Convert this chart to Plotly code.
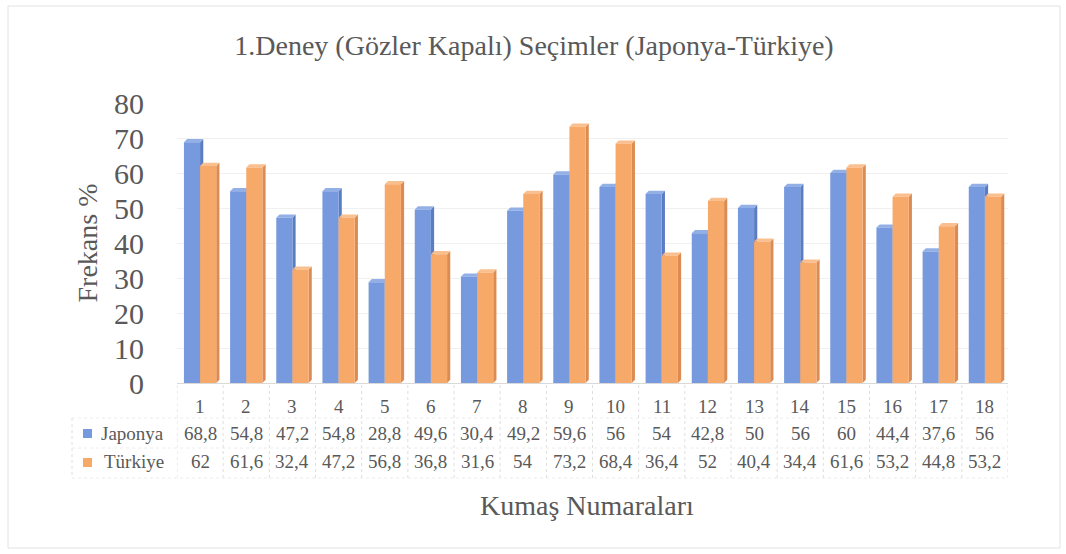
import plotly.graph_objects as go

categories = [str(i) for i in range(1, 19)]
japonya = [68.8, 54.8, 47.2, 54.8, 28.8, 49.6, 30.4, 49.2, 59.6, 56, 54, 42.8, 50, 56, 60, 44.4, 37.6, 56]
turkiye = [62, 61.6, 32.4, 47.2, 56.8, 36.8, 31.6, 54, 73.2, 68.4, 36.4, 52, 40.4, 34.4, 61.6, 53.2, 44.8, 53.2]
y_ticks = [0, 10, 20, 30, 40, 50, 60, 70, 80]

BLUE = "#779ade"
BLUE_SIDE = "#5a7cc2"
BLUE_TOP = "#93b0e6"
ORANGE = "#f7a96a"
ORANGE_SIDE = "#dc8c52"
ORANGE_TOP = "#fabf8e"
SERIF = "Liberation Serif"
TXT = "#595959"

W, H = 1066, 554
ML, MR, MT, MB = 177, 58, 103, 171
PH = H - MT - MB
PW = W - ML - MR

BARGAP = 0.3
BW = (1 - BARGAP) / 2          # width of one bar in category units
DX = 3.2 / (PW / 18)           # depth of the 3-D extrusion, category units
DY = 3.2 / (PH / 80)           # depth of the 3-D extrusion, value units


def py(px):
    """pixel row -> paper y"""
    return (H - MB - px) / PH


def pxp(px):
    """pixel column -> paper x"""
    return (px - ML) / PW


def fmt(v):
    return ("%g" % v).replace(".", ",")


fig = go.Figure()
fig.add_trace(go.Bar(x=categories, y=japonya, name="Japonya",
                     marker=dict(color=BLUE, line=dict(width=0))))
fig.add_trace(go.Bar(x=categories, y=turkiye, name="Türkiye",
                     marker=dict(color=ORANGE, line=dict(width=0))))

shapes = []
# extruded side and top faces, placed behind the bar fronts
for i in range(len(categories)):
    for v, left, side, top in [(japonya[i], i - BW, BLUE_SIDE, BLUE_TOP),
                               (turkiye[i], i, ORANGE_SIDE, ORANGE_TOP)]:
        right = left + BW
        shapes.append(dict(type="path", xref="x", yref="y", layer="between",
                           path=f"M{right},0 L{right + DX},{DY} L{right + DX},{v + DY} L{right},{v} Z",
                           fillcolor=side, line=dict(width=0)))
        shapes.append(dict(type="path", xref="x", yref="y", layer="between",
                           path=f"M{left},{v} L{left + DX},{v + DY} L{right + DX},{v + DY} L{right},{v} Z",
                           fillcolor=top, line=dict(width=0)))

TF = dict(family=SERIF, size=19, color=TXT)
ann = []
# data table below the axis
for i, c in enumerate(categories):
    for row, txt in [(406, c), (433, fmt(japonya[i])), (462, fmt(turkiye[i]))]:
        ann.append(dict(x=i, y=py(row), xref="x", yref="paper", yanchor="middle",
                        text=txt, showarrow=False, font=TF))
for row, label, col in [(433, "Japonya", BLUE), (462, "Türkiye", ORANGE)]:
    ann.append(dict(x=pxp(166), y=py(row), xref="paper", yref="paper",
                    xanchor="right", yanchor="middle", showarrow=False, text=label, font=TF))
    shapes.append(dict(type="rect", xref="paper", yref="paper",
                       x0=pxp(83), x1=pxp(92), y0=py(row + 5), y1=py(row - 4),
                       fillcolor=col, line=dict(width=0)))

# table grid: vertical separators between categories
for k in range(len(categories) + 1):
    xv = k - 0.5
    shapes.append(dict(type="line", xref="x", yref="paper", x0=xv, x1=xv,
                       y0=py(385), y1=py(478), line=dict(color="#dedede", width=1, dash="dot")))
shapes.append(dict(type="line", xref="paper", yref="paper", x0=pxp(72), x1=pxp(72),
                   y0=py(418), y1=py(478), line=dict(color="#dedede", width=1, dash="dot")))
for yp in [418, 448, 478]:
    shapes.append(dict(type="line", xref="paper", yref="paper", x0=pxp(72), x1=1,
                       y0=py(yp), y1=py(yp), line=dict(color="#ececec", width=1, dash="dot")))
# outer chart border
shapes.append(dict(type="rect", xref="paper", yref="paper", x0=pxp(8), x1=pxp(1060),
                   y0=py(548), y1=py(6), line=dict(color="#e2e2e2", width=1)))

fig.update_layout(
    width=W, height=H,
    margin=dict(l=ML, r=MR, t=MT, b=MB),
    paper_bgcolor="white", plot_bgcolor="white",
    barmode="group", bargap=BARGAP, bargroupgap=0.0,
    showlegend=False,
    title=dict(text="1.Deney (Gözler Kapalı) Seçimler (Japonya-Türkiye)",
               x=pxp(534), xref="paper", xanchor="center", y=1 - 45 / H, yanchor="middle",
               font=dict(family=SERIF, size=28, color=TXT)),
    xaxis=dict(type="category", range=[-0.5, 17.5], showticklabels=False,
               showgrid=False, zeroline=False, showline=True, linecolor="#d9d9d9"),
    yaxis=dict(range=[0, 80], tickvals=y_ticks, showgrid=True, gridcolor="#f0f0f0",
               zeroline=False, showline=False, ticks="", ticklabelstandoff=32,
               tickfont=dict(family=SERIF, size=30, color=TXT),
               title=dict(text="Frekans %", standoff=8,
                          font=dict(family=SERIF, size=28, color=TXT))),
    annotations=ann + [dict(text="Kumaş Numaraları", x=pxp(587), xref="paper", y=py(505),
                            yref="paper", yanchor="middle", showarrow=False,
                            font=dict(family=SERIF, size=28, color=TXT))],
    shapes=shapes,
)

fig.write_html("out.html")
